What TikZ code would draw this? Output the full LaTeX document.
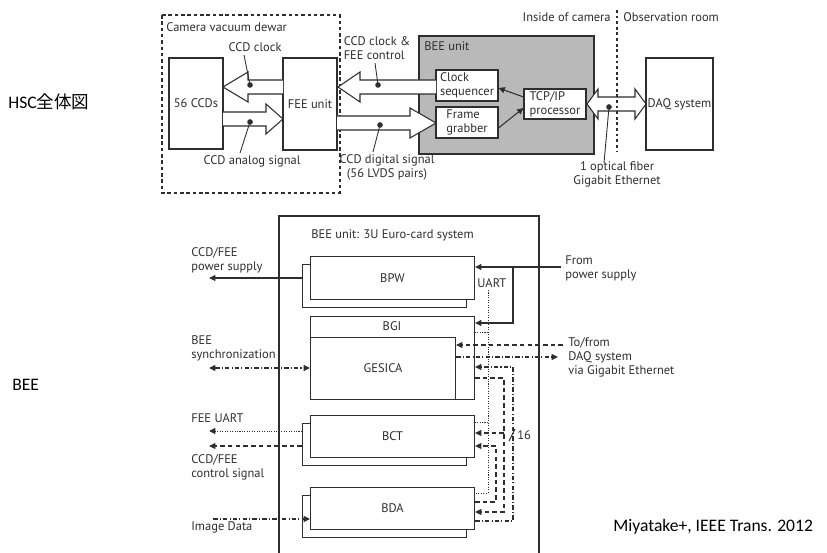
\documentclass[tikz,border=0pt]{standalone}
\usepackage{fontspec}
\setmainfont{Carlito}
\newfontfamily\diagfont{PT Sans}
\newfontfamily\cjkfont{Noto Sans CJK JP}
\usetikzlibrary{arrows.meta}
\definecolor{figink}{HTML}{2E2E2E}
\definecolor{beegray}{HTML}{B9B9B9}

\begin{document}
\begin{tikzpicture}[
  x=0.02cm,
  y=-0.02cm,
  every node/.style={font=\diagfont\fontsize{7.1}{8}\selectfont, figink, inner sep=0pt},
  every path/.style={figink},
  box/.style={draw, line width=0.6pt, fill=white, align=left},
  card/.style={draw, line width=0.6pt, fill=white, anchor=north west},
  hollow/.style={draw, line width=0.6pt, fill=white, line join=miter},
  leader/.style={line width=0.5pt},
  dot/.style={circle, fill=figink, minimum size=3.2pt},
  wire/.style={line width=0.6pt},
  arr/.style={-{Triangle[length=3.6pt, width=3.4pt]}},
  sync/.style={line width=0.6pt, dash pattern=on 2.6pt off 1.2pt on 0.6pt off 1.2pt},
  uart/.style={line width=0.5pt, dash pattern=on 0.6pt off 0.8pt},
  ctrl/.style={line width=0.6pt, dash pattern=on 2.6pt off 1.8pt},
  label/.style={font=\fontsize{10}{12}\selectfont, black}
]
\useasboundingbox (0,0) rectangle (827,553);

% =====================================================================
% side labels
% =====================================================================
\node[label, anchor=west] (lhsc) at (8,102) {HSC{\cjkfont 全体図}};
\node[label, anchor=west] (lbee) at (12,385) {BEE};
\node[label, anchor=west] (lref) at (613,527) {Miyatake+, IEEE Trans. 2012};

% =====================================================================
% top: whole camera chain
% =====================================================================
\draw[line width=0.8pt, dash pattern=on 2pt off 1.6pt] (162,15) rectangle (340,193);
\node[anchor=west] (ldewar) at (166,27) {Camera vacuum dewar};

\fill[beegray] (419,36) rectangle (594,154);
\draw[line width=0.6pt] (419,36) rectangle (594,154);
\node[anchor=west] (lbeeunit) at (424,46) {BEE unit};

\node[box, minimum width=1.08cm, minimum height=1.82cm] (ccds) at (196,103.5) {56 CCDs};
\node[box, minimum width=1.08cm, minimum height=1.84cm] (fee) at (310,104) {FEE unit};
\node[box, minimum width=1.24cm, minimum height=0.62cm] (clk) at (467,85.5) {Clock\\sequencer};
\node[box, minimum width=1.24cm, minimum height=0.62cm] (frm) at (467,122.5) {Frame\\grabber};
\node[box, minimum width=1.24cm, minimum height=0.60cm] (tcp) at (555,104) {TCP/IP\\processor};
\node[box, minimum width=1.34cm, minimum height=1.84cm] (daq) at (679.5,104) {DAQ system};

% hollow bus arrows
\draw[hollow] (283,80) -- (248,80) -- (248,72) -- (223,87) -- (248,102) -- (248,94) -- (283,94);
\draw[hollow] (223,112) -- (266,112) -- (266,104) -- (283,119) -- (266,134) -- (266,126) -- (223,126);
\draw[hollow] (436,80) -- (360,80) -- (360,72) -- (338,87) -- (360,102) -- (360,94) -- (436,94);
\draw[hollow] (337,116) -- (410,116) -- (410,108) -- (436,123) -- (410,138) -- (410,130) -- (337,130);
\draw[hollow] (587,104) -- (598,89) -- (598,97) -- (635,97) -- (635,89) -- (646,104)
  -- (635,119) -- (635,111) -- (598,111) -- (598,119) -- cycle;

\draw[wire, arr] (tcp.west) ++(0,-7) -- (clk.east |- 0,88);
\draw[wire, arr] (frm.east |- 0,128) -- (tcp.west |- 0,108);

% dots and leaders
\node[dot] (dclk) at (250,85) {};
\node[dot] (dana) at (250,122) {};
\node[dot] (dfee) at (378,85) {};
\node[dot] (ddig) at (380,125) {};
\node[dot] (dfib) at (609,107) {};

\node (lclk) at (255,47) {CCD clock};
\node (lana) at (252,161) {CCD analog signal};
\node[align=left] (lfee) at (377,48.5) {CCD clock \&\\FEE control};
\node[align=center] (ldig) at (387,167) {CCD digital signal\\(56 LVDS pairs)};
\node[align=center] (lfib) at (617,174) {1 optical fiber\\Gigabit Ethernet};

\draw[leader] (dclk.center) -- (244,55);
\draw[leader] (dana.center) -- (240,153);
\draw[leader] (dfee.center) -- (375,63);
\draw[leader] (ddig.center) -- (373,152);
\draw[leader] (dfib.center) -- (604,163);

% camera / room border
\draw[line width=0.9pt, dash pattern=on 1.6pt off 1.6pt] (617,10) -- (617,152);
\node[anchor=east] (lin) at (611,17) {Inside of camera};
\node[anchor=west] (lout) at (623,17) {Observation room};

% =====================================================================
% bottom: BEE crate
% =====================================================================
\draw[line width=0.6pt] (279,553) -- (279,216) -- (539,216) -- (539,553);
\node[anchor=west] (lcrate) at (311,235) {BEE unit: 3U Euro-card system};

\foreach \name/\top/\h/\txt in {bpw/256/43/BPW, bct/415/42/BCT, bda/487/42/BDA} {
  \node[card, minimum width=3.28cm, minimum height=\h*0.02cm] (\name b) at (302,\top+8) {};
  \node[card, minimum width=3.28cm, minimum height=\h*0.02cm] (\name) at (310,\top) {};
  \node at (\name.center) {\txt};
}
\node[card, minimum width=3.28cm, minimum height=1.66cm] (bgi) at (310,316) {};
\node[card, minimum width=2.90cm, minimum height=1.24cm] (gesica) at (310,337) {};
\node (lbgi) at (392,326.5) {BGI};
\node (lgesica) at (gesica.center) {GESICA};

% left side signals
\node[anchor=west, align=left] (lpow) at (191,260) {CCD/FEE\\power supply};
\node[anchor=west, align=left] (lsync) at (191,348.5) {BEE\\synchronization};
\node[anchor=west] (lfuart) at (191,418) {FEE UART};
\node[anchor=west, align=left] (lctl) at (191,467) {CCD/FEE\\control signal};
\node[anchor=west] (limg) at (191,527) {Image Data};

\draw[wire, arr] (bpwb.west |- 0,278) -- (209,278);
\draw[sync, {Triangle[length=3.6pt, width=3.4pt]}-{Triangle[length=3.6pt, width=3.4pt]}]
  (209,368) -- (gesica.west |- 0,368);
\draw[uart, arr] (bctb.west |- 0,431) -- (209,431);
\draw[ctrl, arr] (bctb.west |- 0,446) -- (209,446);
\draw[sync, arr] (213,519) -- (bda.west |- 0,519);

% right side: power, UART and backplane buses
\node[anchor=west, align=left] (lfrom) at (565,268) {From\\power supply};
\node[anchor=west] (luart) at (477,283) {UART};
\node[anchor=west, align=left] (ldaq) at (568,357) {To/from\\DAQ system\\via Gigabit Ethernet};

\draw[wire, arr] (561,267) -- (bpw.east |- 0,267);
\draw[wire, arr] (513,267) -- (513,323) -- (bgi.east |- 0,323);

\draw[uart] (488,290) -- (488,493) -- (bda.east |- 0,493);
\draw[uart] (488,332) -- (bgi.east |- 0,332);
\draw[uart] (488,422) -- (bct.east |- 0,422);

\draw[ctrl, arr] (563,345) -- (gesica.east |- 0,345);
\draw[sync, arr] (gesica.east |- 0,357) -- (558,357);

\draw[ctrl, arr] (bgi.east |- 0,378) -- (504,378) -- (504,512) -- (bda.east |- 0,512);
\draw[ctrl, arr] (504,433) -- (bct.east |- 0,433);
\draw[ctrl, arr] (bda.east |- 0,502) -- (496,502) -- (496,446) -- (bct.east |- 0,446);
\draw[sync, arr] (bda.east |- 0,521) -- (513,521) -- (513,367) -- (bgi.east |- 0,367);

\draw[wire] (509,441) -- (515,429);
\node[anchor=west] (lbus) at (517,435) {16};

\end{tikzpicture}
\end{document}
